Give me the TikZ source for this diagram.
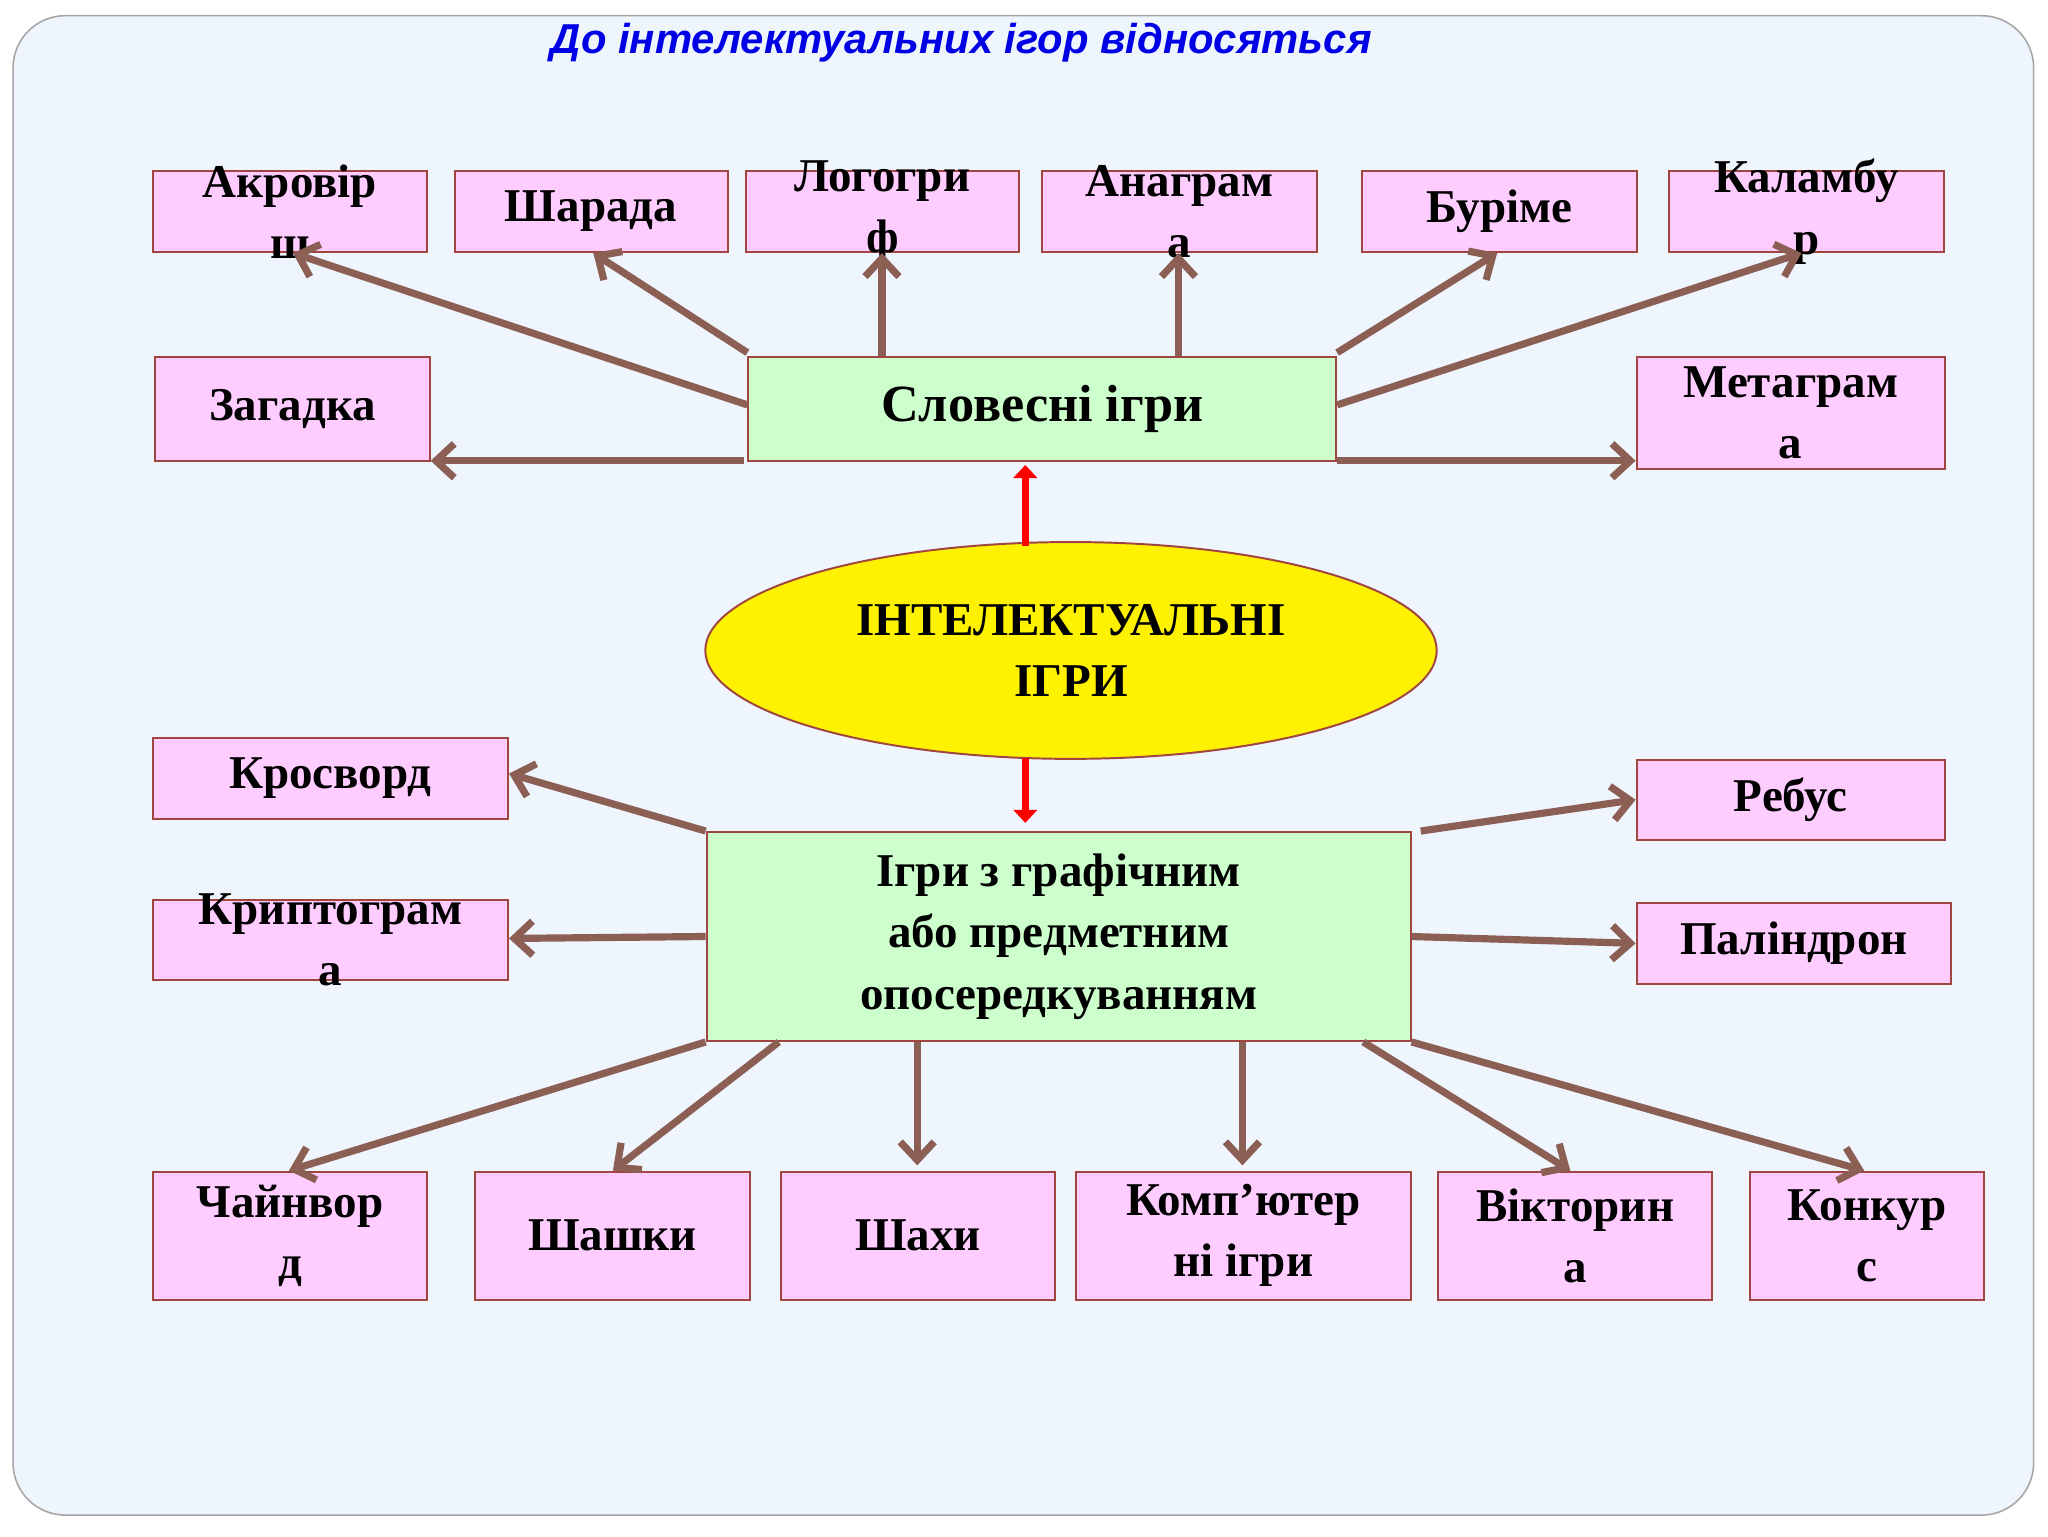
\documentclass[tikz,border=0pt]{standalone}
\usepackage{fontspec}
\setmainfont{Liberation Serif}
\newfontfamily\titlefont{Liberation Sans}
\usetikzlibrary{arrows.meta,shapes.geometric}
\definecolor{bg}{HTML}{EEF5FC}
\definecolor{pinkf}{HTML}{FFCCFF}
\definecolor{boxd}{HTML}{A0453F}
\definecolor{greenf}{HTML}{CCFFCC}
\definecolor{arr}{HTML}{8C5F55}
\tikzset{
 x=1pt,y=-1pt,
 wbox/.style={draw=boxd,line width=1.5pt,fill=pinkf,inner sep=0pt},
 gbox/.style={draw=boxd,line width=1.5pt,fill=greenf,inner sep=0pt},
 lbl/.style={font=\fontsize{36}{47}\selectfont\bfseries,align=center,inner sep=0pt},
 ar/.style={draw=arr,line width=5.5pt,-{Straight Barb[length=14pt,width=26pt,line width=5.5pt]}},
 rar/.style={draw=red,line width=5pt,-{Triangle[length=10pt,width=18pt]}}
}
\newcommand{\wb}[6]{\node[wbox,minimum width=#3-#2,minimum height=#5-#4] (#1) at ({(#2+#3)/2},{(#4+#5)/2}) {};
\node[lbl] at (#1) {#6};}
\begin{document}
\begin{tikzpicture}
\useasboundingbox (0,0) rectangle (1568,1176);
\draw[fill=bg,draw=gray!70,line width=1.2pt,rounded corners=40pt] (10,12) rectangle (1557,1160);
\node[font=\titlefont\fontsize{32}{38}\selectfont\bfseries\itshape,text=blue!90!black] (title) at (736,33) {До інтелектуальних ігор відносяться};
% top row
\wb{a1}{117}{327}{131}{193}{Акровір\\ш}
\wb{a2}{348}{557}{131}{193}{Шарада}
\wb{a3}{571}{780}{131}{193}{Логогри\\ф}
\wb{a4}{798}{1008}{131}{193}{Анаграм\\а}
\wb{a5}{1043}{1253}{131}{193}{Буріме}
\wb{a6}{1278}{1488}{131}{193}{Каламбу\\р}
\wb{zg}{119}{329}{273}{353}{Загадка}
\wb{mt}{1253}{1489}{273}{359}{Метаграм\\а}
\node[gbox,minimum width=450,minimum height=80] (sl) at (798,313) {};
\node[lbl,font=\fontsize{40}{47}\selectfont\bfseries] at (sl) {Словесні ігри};
% ellipse
\node[ellipse,draw=boxd,line width=1.5pt,fill=yellow,minimum width=560,minimum height=166,inner sep=0pt] (el) at (820,498) {};
\node[lbl] at (el) {ІНТЕЛЕКТУАЛЬНІ\\ІГРИ};
% bottom
\wb{kr}{117}{389}{565}{627}{Кросворд}
\wb{kp}{117}{389}{689}{750}{Криптограм\\а}
\wb{rb}{1253}{1489}{582}{643}{Ребус}
\wb{pl}{1253}{1494}{691}{753}{Паліндрон}
\node[gbox,minimum width=539,minimum height=160] (gr) at (810.5,717) {};
\node[lbl] at (gr) {Ігри з графічним\\або предметним\\опосередкуванням};
\wb{b1}{117}{327}{897}{995}{Чайнвор\\д}
\wb{b2}{364}{574}{897}{995}{Шашки}
\wb{b3}{598}{808}{897}{995}{Шахи}
\wb{b4}{824}{1080}{897}{995}{Комп’ютер\\ні ігри}
\wb{b5}{1101}{1311}{897}{995}{Вікторин\\а}
\wb{b6}{1340}{1519}{897}{995}{Конкур\\с}
\coordinate (s3) at ([xshift=103]sl.north west);
\coordinate (s4) at ([xshift=330]sl.north west);
\coordinate (sz) at ([xshift=-3,yshift=1]sl.south west);
\coordinate (sm) at ([yshift=1]sl.south east);
% arrows top
\draw[ar] ([yshift=3]sl.west) -- ([xshift=108]a1.south west);
\draw[ar] ([yshift=43]sl.west) -- ([xshift=107]a2.south west);
\draw[ar] (s3) -- (s3 |- a3.south);
\draw[ar] (s4) -- (s4 |- a4.south);
\draw[ar] ([yshift=43]sl.east) -- ([xshift=104]a5.south west);
\draw[ar] ([yshift=3]sl.east) -- ([xshift=102]a6.south west);
\draw[ar] (sz) -- (sz -| zg.east);
\draw[ar] (sm) -- (sm -| mt.west);
% red arrows
\draw[rar] (785,418) -- (785,356);
\draw[rar] (785,580) -- (785,630);
% arrows bottom
\draw[ar] (gr.north west) -- ([yshift=-28]kr.north east);
\draw[ar] (gr.west) -- ([yshift=1]kp.east);
\draw[ar] ([xshift=7]gr.north east) -- ([yshift=-31]rb.north west);
\draw[ar] (gr.east) -- ([yshift=-32]pl.north west);
\draw[ar] (gr.south west) -- ([xshift=105]b1.north west);
\draw[ar] ([xshift=56]gr.south west) -- ([xshift=106]b2.north west);
\draw[ar] ([xshift=162]gr.south west) -- ([xshift=105,yshift=4]b3.north west);
\draw[ar] ([xshift=411]gr.south west) -- ([xshift=128,yshift=4]b4.north west);
\draw[ar] ([xshift=-37]gr.south east) -- ([xshift=102]b5.north west);
\draw[ar] (gr.south east) -- ([xshift=88]b6.north west);
\end{tikzpicture}
\end{document}
